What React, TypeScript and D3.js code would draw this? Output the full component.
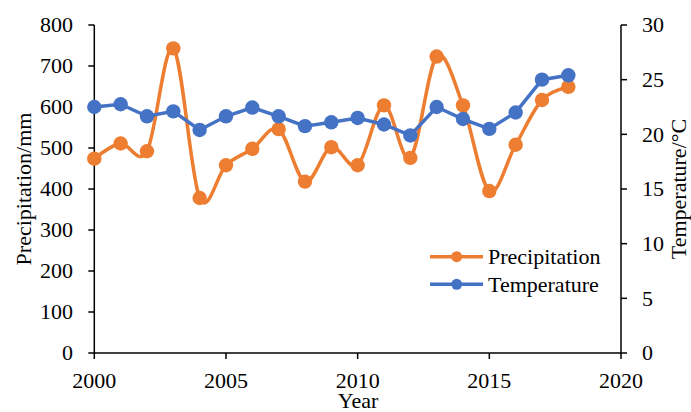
import React from "react";
import * as d3 from "d3";

const years = [2000, 2001, 2002, 2003, 2004, 2005, 2006, 2007, 2008, 2009, 2010, 2011, 2012, 2013, 2014, 2015, 2016, 2017, 2018];
const precipitation = [474, 511, 492, 743, 378, 458, 498, 546, 418, 502, 458, 604, 476, 723, 604, 395, 508, 617, 649];
const temperature = [22.5, 22.75, 21.65, 22.1, 20.4, 21.65, 22.45, 21.65, 20.75, 21.1, 21.5, 20.9, 19.9, 22.5, 21.4, 20.5, 22.0, 25.0, 25.4];
const xTicks = [2000, 2005, 2010, 2015, 2020];
const leftTicks = [0, 100, 200, 300, 400, 500, 600, 700, 800];
const rightTicks = [0, 5, 10, 15, 20, 25, 30];
const seriesNames = ["Precipitation", "Temperature"];

const W = 691;
const H = 412;
const FONT = "'Liberation Serif', 'Times New Roman', serif";
const ORANGE = "#ED7D31";
const BLUE = "#4472C4";

export default function App() {
  const x = d3.scaleLinear().domain([2000, 2020]).range([94.3, 621]);
  const yL = d3.scaleLinear().domain([0, 800]).range([353, 25]);
  const yR = d3.scaleLinear().domain([0, 30]).range([353, 25]);

  const precLine = d3
    .line<number>()
    .x((_, i) => x(years[i]))
    .y((d) => yL(d))
    .curve(d3.curveCardinal.tension(0));
  const tempLine = d3
    .line<number>()
    .x((_, i) => x(years[i]))
    .y((d) => yR(d));

  const fs = 22;
  const axisColor = "#000";

  return (
    <svg
      width={W}
      height={H}
      style={{ position: "absolute", left: 0, top: 0, background: "#fff" }}
      fontFamily={FONT}
    >
      <rect x={0} y={0} width={W} height={H} fill="#fff" />
      {/* axes */}
      <line x1={x(2000)} x2={x(2000)} y1={yL(800)} y2={yL(0)} stroke={axisColor} strokeWidth={1.5} />
      <line x1={x(2020)} x2={x(2020)} y1={yR(30)} y2={yR(0)} stroke={axisColor} strokeWidth={1.5} />
      <line x1={x(2000)} x2={x(2020)} y1={yL(0)} y2={yL(0)} stroke={axisColor} strokeWidth={1.5} />
      {leftTicks.map((t) => (
        <g key={"l" + t}>
          <line x1={x(2000) - 6} x2={x(2000)} y1={yL(t)} y2={yL(t)} stroke={axisColor} strokeWidth={1.5} />
          <text x={73} y={yL(t)} dy="0.34em" textAnchor="end" fontSize={fs} fill="#000">
            {t}
          </text>
        </g>
      ))}
      {rightTicks.map((t) => (
        <g key={"r" + t}>
          <line x1={x(2020)} x2={x(2020) + 6} y1={yR(t)} y2={yR(t)} stroke={axisColor} strokeWidth={1.5} />
          <text x={642} y={yR(t)} dy="0.34em" textAnchor="start" fontSize={fs} fill="#000">
            {t}
          </text>
        </g>
      ))}
      {xTicks.map((t) => (
        <g key={"x" + t}>
          <line x1={x(t)} x2={x(t)} y1={yL(0)} y2={yL(0) + 6} stroke={axisColor} strokeWidth={1.5} />
          <text x={x(t)} y={388} textAnchor="middle" fontSize={fs} fill="#000">
            {t}
          </text>
        </g>
      ))}
      {/* axis titles */}
      <text x={358} y={408} textAnchor="middle" fontSize={fs} fill="#000">
        Year
      </text>
      <text
        transform={`translate(31,${(yL(800) + yL(0)) / 2}) rotate(-90)`}
        textAnchor="middle"
        fontSize={fs}
        fill="#000"
      >
        Precipitation/mm
      </text>
      <text
        transform={`translate(686,${(yL(800) + yL(0)) / 2}) rotate(-90)`}
        textAnchor="middle"
        fontSize={fs}
        fill="#000"
      >
        Temperature/°C
      </text>
      {/* precipitation series */}
      <path d={precLine(precipitation) || ""} fill="none" stroke={ORANGE} strokeWidth={3.5} />
      {precipitation.map((v, i) => (
        <circle key={"p" + i} cx={x(years[i])} cy={yL(v)} r={7.2} fill={ORANGE} />
      ))}
      {/* temperature series */}
      <path d={tempLine(temperature) || ""} fill="none" stroke={BLUE} strokeWidth={3.5} />
      {temperature.map((v, i) => (
        <circle key={"t" + i} cx={x(years[i])} cy={yR(v)} r={7.2} fill={BLUE} />
      ))}
      {/* legend */}
      {seriesNames.map((name, i) => {
        const ly = 256.7 + i * 27.6;
        const c = i === 0 ? ORANGE : BLUE;
        return (
          <g key={name}>
            <line x1={430} x2={483} y1={ly} y2={ly} stroke={c} strokeWidth={3.5} />
            <circle cx={456.7} cy={ly} r={5.5} fill={c} />
            <text x={488} y={ly} dy="0.34em" fontSize={fs} fill="#000">
              {name}
            </text>
          </g>
        );
      })}
    </svg>
  );
}
